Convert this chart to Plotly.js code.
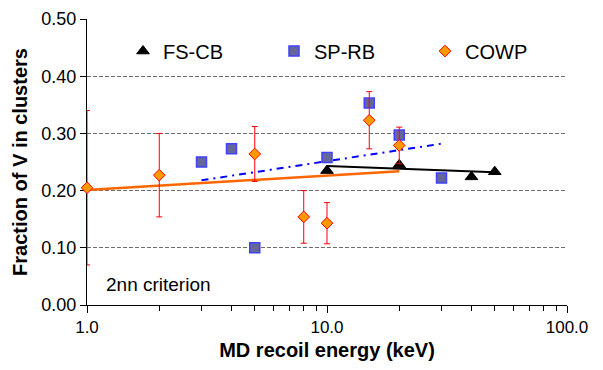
<!DOCTYPE html>
<html><head><meta charset="utf-8">
<script src="https://cdn.plot.ly/plotly-3.0.1.min.js"></script>
<style>html,body{margin:0;padding:0;background:#fff}#chart{width:603px;height:370px}</style>
</head><body><div id="chart"></div>
<script>
// FS-CB series
const fsEnergy = [10, 20, 40, 50];
const fsFraction = [0.235, 0.245, 0.224, 0.233];
// SP-RB series
const spEnergy = [3, 4, 5, 10, 15, 20, 30];
const spFraction = [0.250, 0.273, 0.100, 0.258, 0.353, 0.297, 0.222];
// COWP series with symmetric error
const cowpEnergy = [1, 2, 5, 8, 10, 15, 20];
const cowpFraction = [0.205, 0.227, 0.264, 0.154, 0.143, 0.323, 0.279];
const cowpError = [0.135, 0.073, 0.048, 0.046, 0.036, 0.050, 0.032];
// trend lines (end points)
const fsTrendX = [10, 50];
const fsTrendY = [0.243, 0.232];
const spTrendX = [3, 30];
const spTrendY = [0.218, 0.282];
const cowpTrendX = [1, 20];
const cowpTrendY = [0.201, 0.234];
// ticks
const xTickVals = [1, 10, 100];
const xTickText = ['1.0', '10.0', '100.0'];
const xMinorVals = [2, 3, 4, 5, 6, 7, 8, 9, 20, 30, 40, 50, 60, 70, 80, 90];
const yTickVals = [0, 0.1, 0.2, 0.3, 0.4, 0.5];

const FONT = 'Liberation Sans, Arial, Helvetica, sans-serif';

const traces = [
  {x: cowpTrendX, y: cowpTrendY, mode: 'lines', line: {color: '#ff6600', width: 2.5}, showlegend: false, hoverinfo: 'skip'},
  {x: spTrendX, y: spTrendY, mode: 'lines', line: {color: '#0000ff', width: 2, dash: '7px,5px,2px,5px'}, showlegend: false, hoverinfo: 'skip'},
  {x: fsTrendX, y: fsTrendY, mode: 'lines', line: {color: '#000000', width: 2}, showlegend: false, hoverinfo: 'skip'},
  {x: fsEnergy, y: fsFraction, mode: 'markers', name: 'FS-CB', cliponaxis: false,
   marker: {symbol: 'triangle-up', size: 11, color: '#000000', line: {color: '#000000', width: 1}}},
  {x: spEnergy, y: spFraction, mode: 'markers', name: 'SP-RB', cliponaxis: false,
   marker: {symbol: 'square', size: 10, color: '#666699', line: {color: '#4040ff', width: 1.5}}},
  {x: cowpEnergy, y: cowpFraction, mode: 'markers', name: 'COWP', cliponaxis: false,
   error_y: {type: 'data', array: cowpError, visible: true, color: '#ff0000', thickness: 1, width: 3},
   marker: {symbol: 'diamond', size: 9, color: '#ff9900', line: {color: '#ff0000', width: 1}}}
];

const layout = {
  width: 603, height: 370,
  margin: {l: 87, r: 36, t: 19, b: 65},
  paper_bgcolor: '#ffffff', plot_bgcolor: '#ffffff',
  font: {family: FONT, color: '#000000', size: 17},
  showlegend: true,
  legend: {orientation: 'h', x: 0.075, y: 0.888, xanchor: 'left', yanchor: 'middle',
           font: {size: 20, family: FONT}, bgcolor: 'rgba(0,0,0,0)', entrywidth: 106, traceorder: 'normal'},
  xaxis: {type: 'log', range: [0, 2], tickvals: xTickVals, ticktext: xTickText,
          ticks: 'outside', ticklen: 7, tickcolor: '#000', tickwidth: 1, layer: 'below traces',
          showline: true, linecolor: '#000', linewidth: 1, showgrid: false, zeroline: false,
          tickfont: {size: 17, family: FONT},
          minor: {tickvals: xMinorVals, ticks: 'outside', ticklen: 5, tickcolor: '#000', tickwidth: 1, showgrid: false},
          title: {text: '<b>MD recoil energy (keV)</b>', font: {size: 20, family: FONT}, standoff: 6}},
  yaxis: {range: [0, 0.5], tickvals: yTickVals, tickformat: '.2f',
          ticks: 'outside', ticklen: 6, tickcolor: '#000', tickwidth: 1, layer: 'below traces',
          showline: true, linecolor: '#000', linewidth: 1,
          showgrid: true, gridcolor: '#6e6e6e', gridwidth: 1, griddash: '4px,2px', zeroline: false,
          tickfont: {size: 18, family: FONT},
          title: {text: '<b>Fraction of V in clusters</b>', font: {size: 20, family: FONT}, standoff: 8}},
  annotations: [{text: '2nn criterion', xref: 'paper', yref: 'paper', x: 0.035, y: 0.07,
                 xanchor: 'left', yanchor: 'middle', showarrow: false, font: {size: 19, family: FONT}}]
};

Plotly.newPlot('chart', traces, layout, {displayModeBar: false, staticPlot: true});
</script>
</body></html>
